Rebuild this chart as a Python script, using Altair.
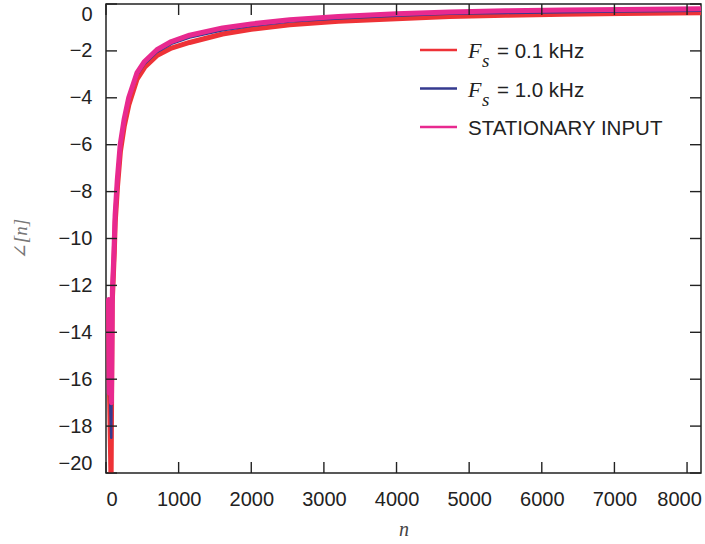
import altair as alt
import pandas as pd

# Phase estimate curves, one list pair per input condition
n_fs01 = [38, 48, 70, 85, 100, 114, 127, 158, 198, 252, 315, 428, 532, 700, 900, 1150, 1605, 2000, 2530, 3200, 4000, 4730, 5500, 6300, 7100, 8192]
v_fs01 = [-12.7, -16.5, -20.5, -12.8, -11.7, -10.6, -9.3, -7.8, -6.3, -5.2, -4.3, -3.2, -2.7, -2.2, -1.88, -1.64, -1.28, -1.08, -0.89, -0.74, -0.63, -0.53, -0.48, -0.44, -0.40, -0.37]

n_fs10 = [40, 50, 72, 86, 100, 112, 126, 156, 196, 251, 313, 426, 531, 700, 900, 1150, 1605, 2000, 2530, 3200, 4000, 4730, 5500, 6300, 7100, 8192]
v_fs10 = [-12.8, -16.2, -18.5, -12.6, -11.5, -10.5, -9.1, -7.6, -6.1, -5.0, -4.1, -3.04, -2.55, -2.05, -1.70, -1.43, -1.12, -0.94, -0.75, -0.62, -0.50, -0.42, -0.38, -0.35, -0.32, -0.29]

n_stat = [35, 45, 60, 75, 88, 100, 110, 125, 155, 195, 250, 312, 425, 530, 700, 900, 1150, 1605, 2000, 2530, 3200, 4000, 4730, 5500, 6300, 7100, 8192]
v_stat = [-12.6, -16.6, -12.8, -17.0, -12.2, -11.3, -10.5, -9.0, -7.5, -6.0, -4.9, -4.0, -2.94, -2.45, -1.95, -1.60, -1.33, -1.02, -0.85, -0.67, -0.53, -0.42, -0.34, -0.29, -0.26, -0.23, -0.20]

x_ticks = [0, 1000, 2000, 3000, 4000, 5000, 6000, 7000, 8000]
y_ticks = [-20, -18, -16, -14, -12, -10, -8, -6, -4, -2, 0]

legend_rows = [
    ("= 0.1 kHz", True, "#EE3237"),
    ("= 1.0 kHz", True, "#353A8F"),
    ("STATIONARY INPUT", False, "#E8298F"),
]

W, H = 595, 469
TICK = 11
AXIS_COLOR = "#222222"
SANS = "Liberation Sans"
SERIF = "Liberation Serif, DejaVu Serif"

xs = alt.Scale(domain=[0, 8192], nice=False, zero=False)
ys = alt.Scale(domain=[-20, 0], nice=False, zero=False)

x_axis = alt.Axis(
    values=x_ticks, title="n", titleFont=SERIF, titleFontStyle="italic",
    titleFontWeight="normal", titleFontSize=20, titleColor="#444444",
    titleY=56, titleBaseline="middle",
    labelFlush=True, labelPadding=16, ticks=False, tickSize=0, domain=False,
    grid=False, format="d",
    labelOffset={"condition": {"test": "datum.value === 8000", "value": -8}, "value": 0},
)
y_axis = alt.Axis(
    values=y_ticks, title="∠[n]", titleFont=SERIF, titleFontStyle="italic",
    titleFontWeight="normal", titleFontSize=19, titleColor="#777777",
    titleX=-86, titleY=H / 2, titleAngle=-90, titleAlign="center", titleBaseline="middle",
    labelFlush=True, labelPadding=14, ticks=False, tickSize=0, domain=False,
    grid=False, format="d",
)


def xenc(field):
    return alt.X(f"{field}:Q", scale=xs, axis=x_axis)


def yenc(field):
    return alt.Y(f"{field}:Q", scale=ys, axis=y_axis)


def curve(ns, vs, color, width):
    df = pd.DataFrame({"n": ns, "v": vs})
    return alt.Chart(df).mark_line(color=color, strokeWidth=width, clip=True,
                                   strokeJoin="round", strokeCap="round").encode(
        x=xenc("n"), y=yenc("v"),
    )


layers = [
    curve(n_fs01, v_fs01, legend_rows[0][2], 5),
    curve(n_fs10, v_fs10, legend_rows[1][2], 2.5),
    curve(n_stat, v_stat, legend_rows[2][2], 5),
]

# inward ticks on all four sides
xt = pd.DataFrame({"n": x_ticks})
yt = pd.DataFrame({"v": y_ticks})
rule_style = dict(color=AXIS_COLOR, strokeWidth=1.4)
layers += [
    alt.Chart(xt).mark_rule(**rule_style).encode(
        x=xenc("n"), y=alt.value(H), y2=alt.value(H - TICK)),
    alt.Chart(xt).mark_rule(**rule_style).encode(
        x=xenc("n"), y=alt.value(0), y2=alt.value(TICK)),
    alt.Chart(yt).mark_rule(**rule_style).encode(
        y=yenc("v"), x=alt.value(0), x2=alt.value(TICK)),
    alt.Chart(yt).mark_rule(**rule_style).encode(
        y=yenc("v"), x=alt.value(W - TICK), x2=alt.value(W)),
]

# legend drawn inside the plot, top right
one = pd.DataFrame({"k": [0]})
row_y = [46, 84.5, 123]
for (label, has_fs, color), yy in zip(legend_rows, row_y):
    base = yy + 8
    layers.append(alt.Chart(one).mark_rule(color=color, strokeWidth=2.5).encode(
        x=alt.value(314), x2=alt.value(351), y=alt.value(yy)))
    tx = 362
    if has_fs:
        layers.append(alt.Chart(one).mark_text(
            text="F", font=SERIF, fontStyle="italic", fontSize=22, align="left",
            baseline="alphabetic", color="#222222").encode(
            x=alt.value(tx), y=alt.value(base)))
        layers.append(alt.Chart(one).mark_text(
            text="s", font=SERIF, fontStyle="italic", fontSize=19, align="left",
            baseline="alphabetic", color="#222222").encode(
            x=alt.value(tx + 14), y=alt.value(base + 9)))
        tx = 391
    layers.append(alt.Chart(one).mark_text(
        text=label, font=SANS, fontSize=20.5, align="left",
        baseline="alphabetic", color="#222222").encode(
        x=alt.value(tx), y=alt.value(base)))

chart = alt.layer(*layers).properties(
    width=W, height=H,
    padding={"left": 106, "top": 4, "right": 4, "bottom": 71},
    autosize=alt.AutoSizeParams(type="none"),
    background="white",
).configure_view(
    stroke=AXIS_COLOR, strokeWidth=1.5,
).configure_axis(
    labelFont=SANS, labelFontSize=20, labelColor="#222222",
)

chart.save("out.html", embed_options={"renderer": "svg", "actions": False})
